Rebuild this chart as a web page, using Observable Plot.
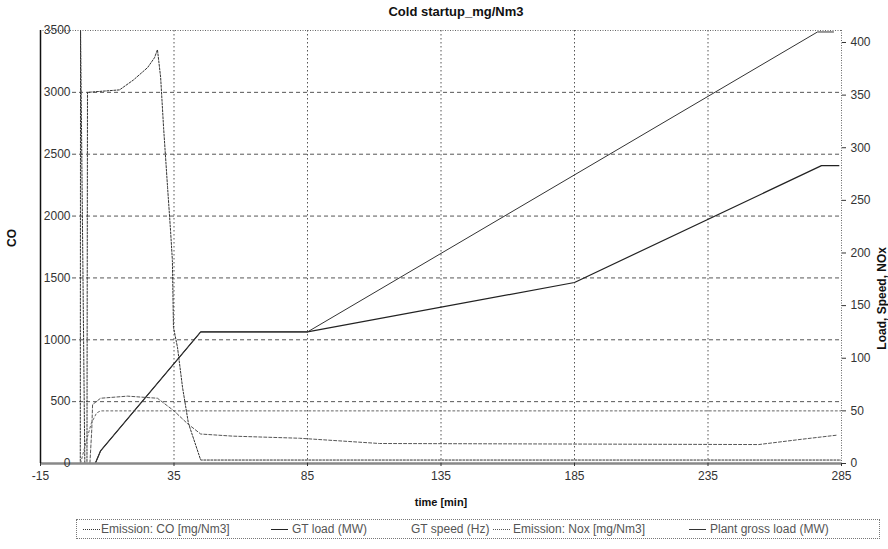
<!DOCTYPE html>
<html>
<head>
<meta charset="utf-8">
<script src="https://cdn.jsdelivr.net/npm/d3@7"></script>
<script src="https://cdn.jsdelivr.net/npm/@observablehq/plot@0.6"></script>
<style>
  html, body { margin: 0; padding: 0; background: #fff; }
  body { width: 888px; height: 549px; position: relative; overflow: hidden;
         font-family: "Liberation Sans", Arial, sans-serif; color: #333; }
  #title { position: absolute; left: 12px; top: 2px; width: 888px; height: 20px; line-height: 20px;
           text-align: center; font-weight: bold; font-size: 13px; color: #111; }
  #chart { position: absolute; left: 0; top: 20px; }
  #legend { position: absolute; left: 76px; top: 519px; width: 804px; height: 20px;
            border: 1px dotted #777; box-sizing: border-box; font-size: 12px; color: #555; }
  .item { position: absolute; top: 0; height: 18px; line-height: 18px; white-space: nowrap; }
  .sample { position: absolute; top: 9px; width: 17px; height: 0; }
</style>
</head>
<body>
<div id="title">Cold startup_mg/Nm3</div>
<div id="chart"></div>
<div id="legend"></div>
<script>
// ---- data ----
const xTicks = [-15, 35, 85, 135, 185, 235, 285];
const leftTicks = [0, 500, 1000, 1500, 2000, 2500, 3000, 3500];
const rightTicks = [0, 50, 100, 150, 200, 250, 300, 350, 400];
const gridYValues = [500, 1000, 1500, 2000, 2500, 3000];
const gridXValues = [35, 85, 135, 185, 235];

// Emission CO [mg/Nm3] (left axis)
const coTime  = [-15, -0.1, 0, 1.6, 2.4, 2.6, 14.6, 19.8, 25.1, 27.7, 28.8, 30.0, 31.1, 32.6, 33.7, 34.4, 34.8, 36.3, 38.2, 40.4, 45, 285];
const coValue = [0, 0, 3500, 0, 0, 3000, 3020, 3100, 3200, 3280, 3345, 3120, 2715, 2230, 1885, 1640, 1100, 940, 615, 325, 28, 28];

// GT load (MW) (right axis)
const gtTime = [-15, 5.5, 7.5, 45, 85, 185, 277.5, 284];
const gtLoad = [0, 0, 12, 125, 125, 172, 283, 283];

// GT speed (Hz) (right axis)
const speedTime  = [-15, 0, 2, 4, 6, 7.5, 285];
const speedValue = [0, 0, 20, 38, 48, 50, 50];

// Emission NOx [mg/Nm3] (right axis)
const noxTime  = [-15, 3.5, 4.2, 4.5, 7.5, 17.6, 28.8, 35, 40, 45, 57, 82, 112, 254, 270, 283.5];
const noxValue = [0, 0, 32, 56, 62, 64, 62, 50, 38, 28, 26, 24, 19, 18, 23, 27];

// Plant gross load (MW) (right axis)
const plantTime = [-15, 5.5, 7.5, 45, 85, 276, 282];
const plantLoad = [0, 0, 12, 125, 125, 410, 410];

const rightMax = 411.4;
const k = 3500 / rightMax;
const rows = (ts, vs, f = 1) => ts.map((t, i) => ({t, v: vs[i] * f}));

const series = [
  {name: "Emission: CO [mg/Nm3]", data: rows(coTime, coValue), stroke: "#333", dash: "2,1.5", w: 1},
  {name: "GT load (MW)", data: rows(gtTime, gtLoad, k), stroke: "#222", dash: null, w: 1.2},
  {name: "GT speed (Hz)", data: rows(speedTime, speedValue, k), stroke: "#666", dash: "2,2.5", w: 1},
  {name: "Emission: Nox [mg/Nm3]", data: rows(noxTime, noxValue, k), stroke: "#555", dash: "3,2", w: 1},
  {name: "Plant gross load (MW)", data: rows(plantTime, plantLoad, k), stroke: "#333", dash: null, w: 1}
];

const plot = Plot.plot({
  width: 888, height: 495,
  marginTop: 10, marginBottom: 52, marginLeft: 40, marginRight: 47,
  style: {fontFamily: "'Liberation Sans', Arial, sans-serif", fontSize: "12px", color: "#333", background: "transparent"},
  x: {domain: [-15, 285]},
  y: {domain: [0, 3500]},
  marks: [
    Plot.ruleY(gridYValues, {x1: -3, x2: 285, stroke: "#555", strokeDasharray: "4,3", strokeWidth: 1}),
    Plot.ruleX(gridXValues, {stroke: "#555", strokeDasharray: "1.5,2.5", strokeWidth: 1}),
    Plot.ruleY([3500], {stroke: "#666", strokeDasharray: "1,1.5"}),
    Plot.ruleX([285], {stroke: "#666", strokeDasharray: "1,1.5"}),
    ...series.map(s => Plot.line(s.data, {x: "t", y: "v", stroke: s.stroke, strokeWidth: s.w, strokeDasharray: s.dash, clip: true})),
    Plot.ruleY([0], {stroke: "#888", strokeWidth: 2.5}),
    Plot.ruleX([-15], {stroke: "#111", strokeWidth: 1.5}),
    Plot.axisY(leftTicks, {anchor: "left", tickSize: 0, tickPadding: -30, tickFormat: d => String(d), label: null}),
    Plot.axisY(rightTicks.map(d => d * k), {anchor: "right", tickSize: 4, tickFormat: d => String(Math.round(d / k)), label: null}),
    Plot.axisX(xTicks, {anchor: "bottom", tickSize: 3, tickPadding: 5, tickFormat: d => String(d), label: null}),
    Plot.text(["CO"], {text: d => d, frameAnchor: "left", dx: -28, rotate: -90, fontWeight: "bold", fontSize: 12, fill: "#111"}),
    Plot.text(["Load, Speed, NOx"], {text: d => d, frameAnchor: "right", dx: 41, rotate: -90, fontWeight: "bold", fontSize: 12, fill: "#111"}),
    Plot.text(["time [min]"], {text: d => d, frameAnchor: "bottom", dy: 42, fontWeight: "bold", fontSize: 11, fill: "#111"})
  ]
});
document.getElementById("chart").appendChild(plot);

// ---- legend ----
const legendPos = [
  {sample: 6, text: 24},
  {sample: 194, text: 215},
  {sample: null, text: 334},
  {sample: 416, text: 436},
  {sample: 612, text: 633}
];
const legend = document.getElementById("legend");
series.forEach((s, i) => {
  const p = legendPos[i];
  if (p.sample !== null) {
    const ln = document.createElement("div");
    ln.className = "sample";
    ln.style.left = p.sample + "px";
    ln.style.borderTop = `${s.w}px ${s.dash ? "dotted" : "solid"} ${s.stroke}`;
    legend.appendChild(ln);
  }
  const t = document.createElement("div");
  t.className = "item";
  t.style.left = p.text + "px";
  t.textContent = s.name;
  legend.appendChild(t);
});
</script>
</body>
</html>
